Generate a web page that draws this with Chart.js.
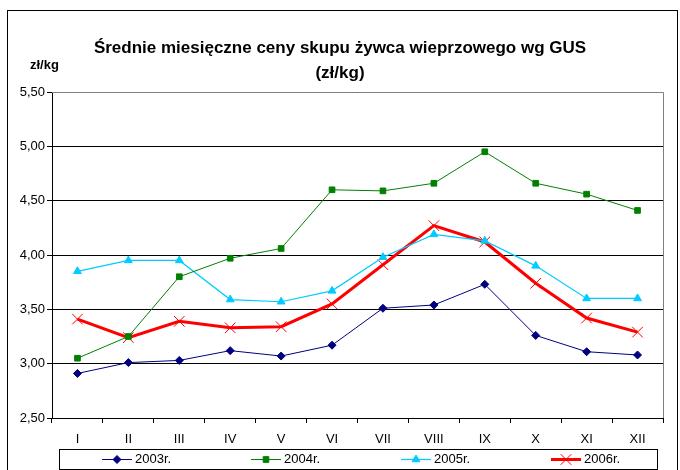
<!DOCTYPE html>
<html><head><meta charset="utf-8">
<script src="https://cdn.jsdelivr.net/npm/chart.js@4/dist/chart.umd.min.js"></script>
<style>html,body{margin:0;padding:0;background:#fff}#wrap{width:680px;height:470px}</style>
</head><body><div id="wrap"><canvas id="c" width="680" height="470"></canvas></div>
<script>
const months = ['I','II','III','IV','V','VI','VII','VIII','IX','X','XI','XII'];
const y2003 = [2.91,3.01,3.03,3.12,3.07,3.17,3.51,3.54,3.73,3.26,3.11,3.08];
const y2004 = [3.05,3.25,3.80,3.97,4.06,4.60,4.59,4.66,4.95,4.66,4.56,4.41];
const y2005 = [3.85,3.95,3.95,3.59,3.57,3.67,3.98,4.19,4.13,3.90,3.60,3.60];
const y2006 = [3.41,3.24,3.39,3.33,3.34,3.55,3.91,4.27,4.12,3.74,3.42,3.29];
const seriesNames = ['2003r.','2004r.','2005r.','2006r.'];
const titleLines = ['Średnie miesięczne ceny skupu żywca wieprzowego wg GUS','(zł/kg)'];
const unitLabel = 'zł/kg';

const FONT = '"Liberation Sans", Arial, sans-serif';

const deco = {
  id: 'deco',
  afterDraw(chart) {
    const ctx = chart.ctx, a = chart.chartArea;
    ctx.save();
    // outer frame
    ctx.strokeStyle = '#000'; ctx.lineWidth = 1;
    ctx.strokeRect(7.5, 10.5, 670, 480);
    // plot top/right border
    ctx.strokeStyle = '#808080';
    ctx.beginPath();
    ctx.moveTo(a.left, Math.round(a.top)+0.5); ctx.lineTo(Math.round(a.right)+0.5, Math.round(a.top)+0.5);
    ctx.lineTo(Math.round(a.right)+0.5, a.bottom);
    ctx.stroke();
    // title
    ctx.fillStyle = '#000';
    ctx.textAlign = 'center'; ctx.textBaseline = 'middle';
    ctx.font = 'bold 17px ' + FONT;
    ctx.fillText(titleLines[0], 340, 48);
    ctx.fillText(titleLines[1], 340, 73);
    ctx.font = 'bold 13px ' + FONT;
    ctx.textAlign = 'left';
    ctx.fillText(unitLabel, 30, 65);
    // legend
    const lt = 449, lb = 469, ll = 59, lr = 657;
    ctx.strokeStyle = '#000'; ctx.lineWidth = 1;
    ctx.strokeRect(ll+0.5, lt+0.5, lr-ll, lb-lt);
    const starts = [102, 251, 401, 551];
    const ly = (lt+lb)/2 + 0.5;
    chart.data.datasets.forEach((ds, i) => {
      const x0 = starts[i];
      ctx.strokeStyle = ds.borderColor; ctx.lineWidth = ds.borderWidth;
      ctx.beginPath(); ctx.moveTo(x0, ly); ctx.lineTo(x0+30, ly); ctx.stroke();
      ctx.fillStyle = ds.borderColor; ctx.strokeStyle = ds.borderColor; ctx.lineWidth = 1;
      Chart.helpers.drawPoint(ctx, {pointStyle: ds.pointStyle, radius: ds.pointRadius, borderWidth: 1}, x0+15, ly);
      ctx.fillStyle = '#000'; ctx.font = '13px ' + FONT;
      ctx.textAlign = 'left'; ctx.textBaseline = 'middle';
      ctx.fillText(ds.label, x0+33, ly);
    });
    ctx.restore();
  }
};

const mk = (label, data, color, style, radius, width, pbw) => ({
  label, data, borderColor: color, backgroundColor: color,
  pointBackgroundColor: color, pointBorderColor: color,
  pointStyle: style, pointRadius: radius, pointHoverRadius: radius,
  pointBorderWidth: pbw, borderWidth: width, tension: 0, fill: false
});

new Chart(document.getElementById('c'), {
  type: 'line',
  data: {
    labels: months,
    datasets: [
      mk(seriesNames[0], y2003, '#000080', 'rectRot', 4, 1, 1),
      mk(seriesNames[1], y2004, '#008000', 'rect', 4, 1, 1),
      mk(seriesNames[2], y2005, '#00CCFF', 'triangle', 4.5, 1.2, 1),
      mk(seriesNames[3], y2006, '#FF0000', 'crossRot', 7.5, 3, 1)
    ]
  },
  options: {
    responsive: false, animation: false, devicePixelRatio: 1,
    layout: { padding: { left: 7, right: 17, top: 92, bottom: 22 } },
    plugins: { legend: { display: false }, title: { display: false }, tooltip: { enabled: false } },
    scales: {
      x: {
        offset: true,
        grid: { offset: true, drawOnChartArea: false, drawTicks: true, tickLength: 5, color: '#000' },
        border: { color: '#000', width: 1 },
        ticks: { color: '#000', font: { family: FONT, size: 13 }, padding: 9, maxRotation: 0, autoSkip: false },
        afterFit: s => { s.height = 30; }
      },
      y: {
        min: 2.5, max: 5.5,
        grid: { color: '#000', lineWidth: 1, tickLength: 5 },
        border: { color: '#000', width: 1 },
        ticks: { stepSize: 0.5, color: '#000', font: { family: FONT, size: 13 }, padding: 2,
          callback: v => v.toFixed(2).replace('.', ',') },
        afterFit: s => { s.width = 45; }
      }
    }
  },
  plugins: [deco]
});
</script>
</body></html>
